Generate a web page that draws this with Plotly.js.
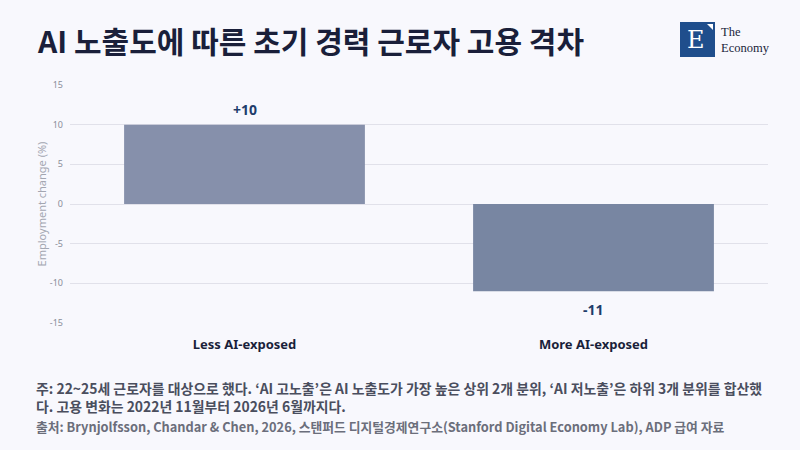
<!DOCTYPE html>
<html>
<head>
<meta charset="utf-8">
<script src="https://cdn.plot.ly/plotly-3.0.1.min.js"></script>
<style>
  html, body { margin: 0; padding: 0; background: #f8f8fd; }
  #plot { width: 800px; height: 450px; }
</style>
</head>
<body>
<div id="plot"></div>
<script>
// Chart values
var categories = ['Less AI-exposed', 'More AI-exposed'];
var changes = [10, -11];
var valueLabels = ['+10', '-11'];
var barColors = ['#8690ab', '#7886a2'];
var yTicks = [-15, -10, -5, 0, 5, 10, 15];

var kr = '"Noto Sans CJK KR", "Noto Sans", sans-serif';

// plot area in pixels: x 70..768, y 85..323
function px(x) { return (x - 70) / 698; }
function py(y) { return (323 - y) / 238; }

var trace = {
  type: 'bar',
  x: categories,
  y: changes,
  cliponaxis: false,
  marker: { color: barColors },
  hoverinfo: 'none'
};

// value labels sit above / below the bar ends
var valueAnnotations = categories.map(function (c, i) {
  return {
    x: c, y: changes[i], xref: 'x', yref: 'y',
    text: '<b>' + valueLabels[i] + '</b>', showarrow: false,
    yanchor: 'middle', yshift: changes[i] >= 0 ? 15 : -18,
    font: { family: '"Noto Sans", sans-serif', size: 14, color: '#1f3d6b' }
  };
});

var layout = {
  width: 800,
  height: 450,
  paper_bgcolor: '#f8f8fd',
  plot_bgcolor: '#f8f8fd',
  margin: { l: 70, r: 32, t: 85, b: 127 },
  bargap: 0.31,
  showlegend: false,
  font: { family: '"Noto Sans", sans-serif' },
  xaxis: {
    showgrid: false,
    zeroline: false,
    showline: false,
    ticks: '',
    ticklabelstandoff: 12,
    tickfont: { size: 13, color: '#1a1f3a', weight: 'bold' }
  },
  yaxis: {
    range: [-15, 15],
    tickvals: yTicks,
    ticktext: yTicks.map(String),
    showgrid: true,
    gridcolor: '#e1e1ea',
    gridwidth: 1,
    zeroline: true,
    zerolinecolor: '#e1e1ea',
    zerolinewidth: 1,
    showline: false,
    ticks: '',
    ticklabelstandoff: 6,
    tickfont: { size: 9, color: '#8a8d99' },
    title: { text: 'Employment change (%)', font: { size: 11, color: '#a3a6b1' }, standoff: 0 }
  },
  shapes: [
    { type: 'rect', xref: 'paper', yref: 'paper', x0: px(680), x1: px(715), y0: py(57), y1: py(22),
      fillcolor: '#1f4e8c', line: { width: 0 } },
    { type: 'path', xref: 'paper', yref: 'paper',
      path: 'M ' + px(707) + ' ' + py(24) + ' L ' + px(713) + ' ' + py(24) + ' L ' + px(713) + ' ' + py(30) + ' Z',
      fillcolor: '#ffffff', line: { width: 0 } }
  ],
  annotations: valueAnnotations.concat([
    { xref: 'paper', yref: 'paper', x: px(35), y: py(40), xanchor: 'left', yanchor: 'middle',
      text: '<b>AI 노출도에 따른 초기 경력 근로자 고용 격차</b>', showarrow: false,
      font: { family: kr, size: 30, color: '#1a1f3a' } },
    { xref: 'paper', yref: 'paper', x: px(696), y: py(40), xanchor: 'center', yanchor: 'middle',
      text: 'E', showarrow: false,
      font: { family: '"DejaVu Serif", "Liberation Serif", serif', size: 24, color: '#ffffff' } },
    { xref: 'paper', yref: 'paper', x: px(719), y: py(40), xanchor: 'left', yanchor: 'middle',
      text: 'The<br>Economy', showarrow: false, align: 'left',
      font: { family: '"Liberation Serif", serif', size: 12.5, color: '#1a1f3a' } },
    { xref: 'paper', yref: 'paper', x: px(34), y: py(397), xanchor: 'left', yanchor: 'middle',
      text: '<b>주: 22~25세 근로자를 대상으로 했다. ‘AI 고노출’은 AI 노출도가 가장 높은 상위 2개 분위, ‘AI 저노출’은 하위 3개 분위를 합산했<br>다. 고용 변화는 2022년 11월부터 2026년 6월까지다.</b>',
      showarrow: false, align: 'left',
      font: { family: kr, size: 13.9, color: '#4a4e5e' } },
    { xref: 'paper', yref: 'paper', x: px(34), y: py(426), xanchor: 'left', yanchor: 'middle',
      text: '<b>출처: Brynjolfsson, Chandar & Chen, 2026, 스탠퍼드 디지털경제연구소(Stanford Digital Economy Lab), ADP 급여 자료</b>',
      showarrow: false, align: 'left',
      font: { family: kr, size: 12.8, color: '#6b6e7b' } }
  ])
};

Plotly.newPlot('plot', [trace], layout, { displayModeBar: false, staticPlot: true });
</script>
</body>
</html>
